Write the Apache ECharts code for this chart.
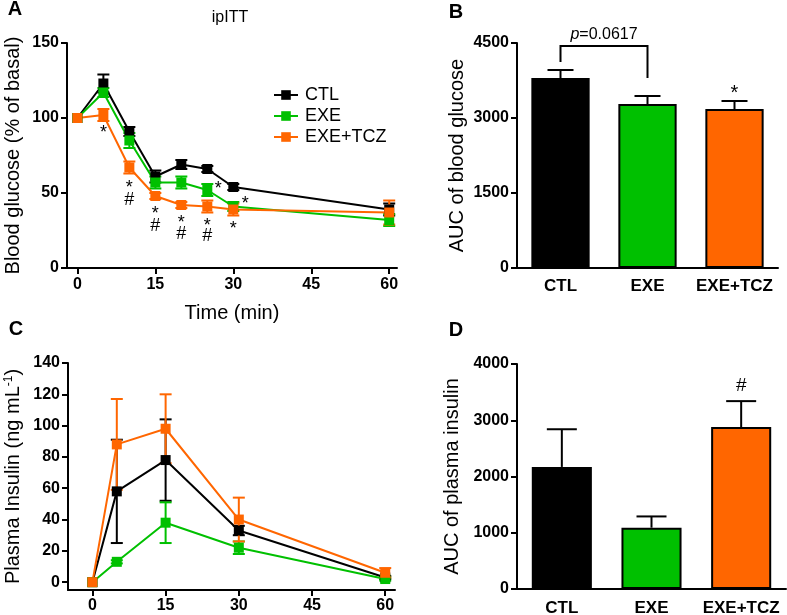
<!DOCTYPE html>
<html><head><meta charset="utf-8">
<script src="https://cdn.jsdelivr.net/npm/echarts@6/dist/echarts.min.js"></script>
<style>html,body{margin:0;padding:0;background:#fff}#c{width:787px;height:615px}</style>
</head><body><div id="c"></div>
<script>
const groups = ['CTL', 'EXE', 'EXE+TCZ'];
const colors = ['#000000', '#00C000', '#FF6600'];
// Panel A: ipITT, blood glucose (% of basal)
const ittTime = [0, 5, 10, 15, 20, 25, 30, 60];
const ittCTL = [100, 123, 91, 61, 69, 66, 54, 39];
const ittCTLsem = [0, 6, 3, 4, 3, 2, 2, 4];
const ittEXE = [100, 117, 85, 57, 57, 52, 41, 32];
const ittEXEsem = [0, 3, 5, 4, 4, 4, 3, 4];
const ittTCZ = [100, 102, 67, 48, 42, 41, 39, 37];
const ittTCZsem = [0, 4, 4, 2, 2, 4, 4, 8];
const timeTicks = [0, 15, 30, 45, 60];
// significance marks for panel A: [time, value, text]
const ittMarks = [[5, 90, '*'], [10, 53, '*'], [10, 45, '#'], [15, 36, '*'], [15, 28, '#'],
  [20, 30, '*'], [20, 22.7, '#'], [25, 28, '*'], [25, 21.3, '#'], [30, 26, '*'],
  [27.1, 52.7, '*'], [32.3, 42.7, '*']];
// Panel B: AUC of blood glucose
const aucGlucose = [3800, 3280, 3180];
const aucGlucoseSem = [160, 160, 160];
const aucGlucoseMarks = [[2, 3500, '*']];
// Panel C: plasma insulin
const insTime = [0, 5, 15, 30, 60];
const insCTL = [0, 58, 78, 33, 3];
const insCTLsem = [0, 33, 26, 3, 1];
const insEXE = [0, 13, 38, 22, 2];
const insEXEsem = [0, 1, 13, 4, 1];
const insTCZ = [0, 88, 98, 40, 6];
const insTCZsem = [0, 29, 22, 14, 3];
const insTicks = [0, 20, 40, 60, 80, 100, 120, 140];
// Panel D: AUC of plasma insulin
const aucInsulin = [2170, 1090, 2880];
const aucInsulinSem = [670, 200, 460];
const aucInsulinMarks = [[2, 3610, '#']];

const FF = 'Liberation Sans, Arial, sans-serif';
const axisLine = {show: true, onZero: false, lineStyle: {color: '#000', width: 2}};
const axisTick = {show: true, length: 6, lineStyle: {color: '#000', width: 2}};
const tickLabel = {color: '#000', fontSize: 16, fontWeight: 'bold', fontFamily: FF, formatter: v => String(v)};
const catLabel = {color: '#000', fontSize: 17, fontWeight: 'bold', fontFamily: FF, interval: 0};
const nameStyle = {color: '#000', fontSize: 20, fontFamily: FF};

function errSeries(gi, times, means, sems, color) {
  return {type: 'custom', xAxisIndex: gi, yAxisIndex: gi, silent: true, z: 4,
    data: times.map((t, i) => [t, means[i], sems[i]]),
    renderItem(params, api) {
      const t = api.value(0), m = api.value(1), s = api.value(2);
      if (!s) return;
      const top = api.coord([t, m + s]), bot = api.coord([t, m - s]);
      const hw = 6, st = {stroke: color, lineWidth: 2};
      return {type: 'group', children: [
        {type: 'line', shape: {x1: top[0], y1: top[1], x2: bot[0], y2: bot[1]}, style: st},
        {type: 'line', shape: {x1: top[0] - hw, y1: top[1], x2: top[0] + hw, y2: top[1]}, style: st},
        {type: 'line', shape: {x1: bot[0] - hw, y1: bot[1], x2: bot[0] + hw, y2: bot[1]}, style: st}
      ]};
    }};
}
function barErrSeries(gi, means, sems, hw) {
  return {type: 'custom', xAxisIndex: gi, yAxisIndex: gi, silent: true, z: 1,
    data: means.map((m, i) => [i, m, sems[i]]),
    renderItem(params, api) {
      const i = api.value(0), m = api.value(1), s = api.value(2);
      const a = api.coord([i, m]), b = api.coord([i, m + s]);
      const st = {stroke: '#000', lineWidth: 2};
      return {type: 'group', children: [
        {type: 'line', shape: {x1: a[0], y1: a[1], x2: b[0], y2: b[1]}, style: st},
        {type: 'line', shape: {x1: b[0] - hw, y1: b[1], x2: b[0] + hw, y2: b[1]}, style: st}
      ]};
    }};
}
function markSeries(gi, items, size) {
  return {type: 'custom', xAxisIndex: gi, yAxisIndex: gi, silent: true, z: 6,
    data: items.map(d => [d[0], d[1]]),
    renderItem(params, api) {
      const p = api.coord([api.value(0), api.value(1)]);
      return {type: 'text', x: p[0], y: p[1],
        style: {text: items[params.dataIndex][2], fill: '#000', font: size + 'px ' + FF,
          align: 'center', verticalAlign: 'middle', textAlign: 'center', textVerticalAlign: 'middle'}};
    }};
}
function lineSeries(gi, name, times, vals, color) {
  return {type: 'line', name, xAxisIndex: gi, yAxisIndex: gi, z: 5,
    data: times.map((t, i) => [t, vals[i]]),
    symbol: 'rect', symbolSize: 10, showSymbol: true,
    lineStyle: {color, width: 2}, itemStyle: {color}, animation: false};
}
function letter(t, x, y) {
  return {type: 'text', x, y, style: {text: t, font: 'bold 20px ' + FF, fill: '#000', align: 'center', verticalAlign: 'middle'}};
}

const option = {
  animation: false,
  textStyle: {fontFamily: FF},
  grid: [
    {left: 67, top: 43, width: 330, height: 225, outerBoundsMode: 'none'},
    {left: 517, top: 43, width: 261, height: 225, outerBoundsMode: 'none'},
    {left: 68, top: 363, width: 327, height: 227, outerBoundsMode: 'none'},
    {left: 517, top: 364, width: 269, height: 225, outerBoundsMode: 'none'}
  ],
  legend: {orient: 'vertical', left: 268, top: 81, itemWidth: 24, itemHeight: 12, itemGap: 3,
    data: groups, selectedMode: false,
    textStyle: {color: '#000', fontSize: 18, fontFamily: FF, padding: [0, 0, 0, 2]}},
  graphic: [
    letter('A', 15, 9), letter('B', 456, 12), letter('C', 16, 329), letter('D', 456, 330),
    {type: 'text', x: 230, y: 18, style: {text: 'ipITT', font: '16px ' + FF, fill: '#000', align: 'center', verticalAlign: 'middle'}}
  ],
  xAxis: [
    {gridIndex: 0, type: 'value', min: -2, max: 61.5, splitLine: {show: false},
      axisLine, axisTick: Object.assign({customValues: timeTicks}, axisTick),
      axisLabel: Object.assign({customValues: timeTicks, margin: 9}, tickLabel),
      name: 'Time (min)', nameLocation: 'middle', nameGap: 35, nameTextStyle: nameStyle},
    {gridIndex: 1, type: 'category', data: groups, axisLine, axisTick: {show: false},
      axisLabel: Object.assign({margin: 10}, catLabel)},
    {gridIndex: 2, type: 'value', min: -5, max: 62, splitLine: {show: false},
      axisLine, axisTick: Object.assign({customValues: timeTicks}, axisTick),
      axisLabel: Object.assign({customValues: timeTicks, margin: 8}, tickLabel)},
    {gridIndex: 3, type: 'category', data: groups, axisLine, axisTick: {show: false},
      axisLabel: Object.assign({margin: 11}, catLabel)}
  ],
  yAxis: [
    {gridIndex: 0, type: 'value', min: 0, max: 150, interval: 50, splitLine: {show: false},
      axisLine, axisTick, axisLabel: tickLabel,
      name: 'Blood glucose (% of basal)', nameLocation: 'middle', nameGap: 44, nameTextStyle: nameStyle},
    {gridIndex: 1, type: 'value', min: 0, max: 4500, interval: 1500, splitLine: {show: false},
      axisLine, axisTick, axisLabel: tickLabel,
      name: 'AUC of blood glucose', nameLocation: 'middle', nameGap: 50, nameTextStyle: nameStyle},
    {gridIndex: 2, type: 'value', min: -5, max: 140, splitLine: {show: false},
      axisLine, axisTick: Object.assign({customValues: insTicks}, axisTick),
      axisLabel: Object.assign({customValues: insTicks}, tickLabel),
      name: 'Plasma Insulin (ng mL{sup|-1})', nameLocation: 'middle', nameGap: 44,
      nameTextStyle: Object.assign({rich: {sup: {fontSize: 12, color: '#000', fontFamily: FF, padding: [0, 0, 9, 0]}}}, nameStyle)},
    {gridIndex: 3, type: 'value', min: 0, max: 4000, interval: 1000, splitLine: {show: false},
      axisLine, axisTick, axisLabel: tickLabel,
      name: 'AUC of plasma insulin', nameLocation: 'middle', nameGap: 55, nameTextStyle: nameStyle}
  ],
  series: [
    lineSeries(0, groups[0], ittTime, ittCTL, colors[0]),
    lineSeries(0, groups[1], ittTime, ittEXE, colors[1]),
    lineSeries(0, groups[2], ittTime, ittTCZ, colors[2]),
    errSeries(0, ittTime, ittCTL, ittCTLsem, colors[0]),
    errSeries(0, ittTime, ittEXE, ittEXEsem, colors[1]),
    errSeries(0, ittTime, ittTCZ, ittTCZsem, colors[2]),
    markSeries(0, ittMarks, 18),
    {type: 'bar', xAxisIndex: 1, yAxisIndex: 1, barCategoryGap: '33%', z: 2,
      data: aucGlucose.map((v, i) => ({value: v, itemStyle: {color: colors[i], borderColor: '#000', borderWidth: 2}}))},
    barErrSeries(1, aucGlucose, aucGlucoseSem, 13),
    markSeries(1, aucGlucoseMarks, 20),
    {type: 'custom', xAxisIndex: 1, yAxisIndex: 1, silent: true, z: 6,
      data: [[0, 1, 4440, 4120, 3800]],
      renderItem(params, api) {
        const l = api.coord([api.value(0), api.value(2)]);
        const r = api.coord([api.value(1), api.value(2)]);
        const lb = api.coord([api.value(0), api.value(3)]);
        const rb = api.coord([api.value(1), api.value(4)]);
        return {type: 'group', children: [
          {type: 'polyline', shape: {points: [[lb[0], lb[1]], [l[0], l[1]], [r[0], r[1]], [rb[0], rb[1]]]},
            style: {stroke: '#000', lineWidth: 2, fill: null}},
          {type: 'text', x: (l[0] + r[0]) / 2, y: l[1] - 11,
            style: {text: '{i|p}=0.0617', font: '16px ' + FF, fill: '#000', align: 'center', verticalAlign: 'middle',
              rich: {i: {fontStyle: 'italic', fontSize: 16, fontFamily: FF, fill: '#000', color: '#000'}}}}
        ]};
      }},
    lineSeries(2, groups[0], insTime, insCTL, colors[0]),
    lineSeries(2, groups[1], insTime, insEXE, colors[1]),
    lineSeries(2, groups[2], insTime, insTCZ, colors[2]),
    errSeries(2, insTime, insCTL, insCTLsem, colors[0]),
    errSeries(2, insTime, insEXE, insEXEsem, colors[1]),
    errSeries(2, insTime, insTCZ, insTCZsem, colors[2]),
    {type: 'bar', xAxisIndex: 3, yAxisIndex: 3, barCategoryGap: '33%', z: 2,
      data: aucInsulin.map((v, i) => ({value: v, itemStyle: {color: colors[i], borderColor: '#000', borderWidth: 2}}))},
    barErrSeries(3, aucInsulin, aucInsulinSem, 15),
    markSeries(3, aucInsulinMarks, 19)
  ]
};
const chart = echarts.init(document.getElementById('c'), null, {renderer: 'canvas'});
chart.setOption(option);
</script></body></html>
